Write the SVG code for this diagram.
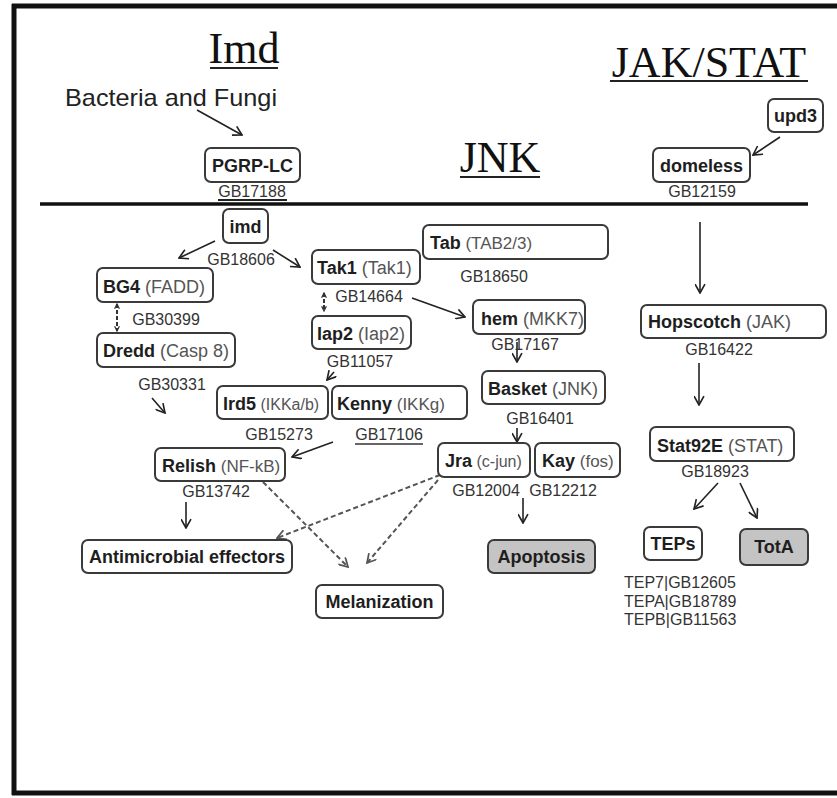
<svg xmlns="http://www.w3.org/2000/svg" width="837" height="798" viewBox="0 0 837 798">
<style>
.box{fill:#fff;stroke:#3a3a3a;stroke-width:2}
.gray{fill:#c4c4c4;stroke:#3a3a3a;stroke-width:2}
.lbl{font-family:"Liberation Sans",Arial,sans-serif;font-size:18px;fill:#222}
.b{font-weight:bold;fill:#1e1e1e}
.r{fill:#555}
.gb{font-family:"Liberation Sans",Arial,sans-serif;font-size:16px;fill:#333}
.title{font-family:"Liberation Serif","Times New Roman",serif;font-size:44px;fill:#111}
.arr{stroke:#222;stroke-width:1.6;fill:none;marker-end:url(#ah)}
.dash{stroke:#555;stroke-width:2;fill:none;stroke-dasharray:5 3;marker-end:url(#ahd)}
.dd{stroke:#333;stroke-width:2;fill:none;stroke-dasharray:4 2;marker-end:url(#ahs);marker-start:url(#ahs)}
.ul{stroke:#222;stroke-width:2}
</style>
<defs>
<marker id="ah" viewBox="0 0 10 10" refX="9" refY="5" markerWidth="11" markerHeight="11" markerUnits="userSpaceOnUse" orient="auto">
<path d="M1,0.5 L9,5 L1,9.5" fill="none" stroke="#222" stroke-width="1.5"/>
</marker>
<marker id="ahd" viewBox="0 0 10 10" refX="9" refY="5" markerWidth="11" markerHeight="11" markerUnits="userSpaceOnUse" orient="auto">
<path d="M1,0.5 L9,5 L1,9.5" fill="none" stroke="#555" stroke-width="1.6"/>
</marker>
<marker id="ahs" viewBox="0 0 10 10" refX="9" refY="5" markerWidth="6" markerHeight="6" markerUnits="userSpaceOnUse" orient="auto-start-reverse">
<path d="M1,1 L9,5 L1,9" fill="none" stroke="#333" stroke-width="2"/>
</marker>
</defs>
<rect width="837" height="798" fill="#fff"/>
<g id="frame">
<line x1="14" y1="4" x2="14" y2="795" stroke="#111" stroke-width="5"/>
<line x1="12" y1="6" x2="837" y2="6" stroke="#111" stroke-width="5"/>
<line x1="12" y1="793" x2="837" y2="793" stroke="#111" stroke-width="5"/>
<line x1="40" y1="204" x2="808" y2="204" stroke="#111" stroke-width="3.5"/>
</g>
<g id="titles">
<text class="title" x="244" y="63" text-anchor="middle">Imd</text>
<line class="ul" x1="210" y1="68" x2="278" y2="68"/>
<text class="title" x="709" y="77" text-anchor="middle">JAK/STAT</text>
<line class="ul" x1="610" y1="81" x2="808" y2="81"/>
<text class="title" x="500" y="172" text-anchor="middle">JNK</text>
<line class="ul" x1="460" y1="177" x2="540" y2="177"/>
<text x="65" y="106" font-family="'Liberation Sans',Arial,sans-serif" font-size="24" fill="#222" textLength="212" lengthAdjust="spacingAndGlyphs">Bacteria and Fungi</text>
</g>
<g id="connectors">
<line class="arr" x1="197" y1="110" x2="242" y2="135"/>
<line class="arr" x1="780" y1="137" x2="753" y2="155"/>
<line class="arr" x1="215" y1="241" x2="179" y2="258"/>
<line class="arr" x1="273" y1="250" x2="300" y2="267"/>
<line class="dd" x1="117" y1="304" x2="117" y2="331"/>
<line class="dd" x1="324" y1="293" x2="324" y2="311"/>
<line class="arr" x1="412" y1="298" x2="465" y2="317"/>
<line class="arr" x1="517" y1="342" x2="517" y2="362"/>
<line class="arr" x1="334" y1="372" x2="327" y2="380"/>
<line class="arr" x1="152" y1="398" x2="165" y2="413"/>
<line class="arr" x1="333" y1="442" x2="292" y2="457"/>
<line class="arr" x1="517" y1="428" x2="517" y2="442"/>
<line class="arr" x1="523" y1="498" x2="523" y2="523"/>
<line class="arr" x1="186" y1="502" x2="186" y2="528"/>
<line class="dash" x1="263" y1="482" x2="348" y2="567"/>
<line class="dash" x1="440" y1="475" x2="277" y2="538"/>
<line class="dash" x1="438" y1="480" x2="367" y2="563"/>
<line class="arr" x1="700" y1="222" x2="700" y2="293"/>
<line class="arr" x1="699" y1="363" x2="699" y2="405"/>
<line class="arr" x1="718" y1="483" x2="694" y2="509"/>
<line class="arr" x1="740" y1="483" x2="757" y2="518"/>
</g>
<g id="pgrp"><rect class="box" x="205" y="148" width="95" height="34" rx="6"/><text class="lbl b" x="252.5" y="172" text-anchor="middle">PGRP-LC</text><text class="gb" x="252" y="197" text-anchor="middle">GB17188</text><line class="ul" x1="218" y1="200" x2="287" y2="200"/></g>
<g id="domeless"><rect class="box" x="653" y="148" width="97" height="34" rx="6"/><text class="lbl b" x="701.5" y="172" text-anchor="middle">domeless</text><text class="gb" x="702" y="197" text-anchor="middle">GB12159</text></g>
<g id="upd3"><rect class="box" x="768" y="99" width="55" height="33" rx="6"/><text class="lbl b" x="795.5" y="122" text-anchor="middle">upd3</text></g>
<g id="imd"><rect class="box" x="223" y="209" width="45" height="34" rx="6"/><text class="lbl b" x="245.5" y="233" text-anchor="middle">imd</text><text class="gb" x="241" y="265" text-anchor="middle">GB18606</text></g>
<g id="bg4"><rect class="box" x="97" y="268" width="116" height="34" rx="6"/><text class="lbl" x="103" y="293"><tspan class="b">BG4</tspan><tspan class="r"> (FADD)</tspan></text><text class="gb" x="166" y="325" text-anchor="middle">GB30399</text></g>
<g id="dredd"><rect class="box" x="97" y="333" width="138" height="34" rx="6"/><text class="lbl" x="103" y="357"><tspan class="b">Dredd</tspan><tspan class="r"> (Casp 8)</tspan></text><text class="gb" x="172" y="390" text-anchor="middle">GB30331</text></g>
<g id="tak1"><rect class="box" x="312" y="250" width="108" height="34" rx="6"/><text class="lbl" x="317" y="274"><tspan class="b">Tak1</tspan><tspan class="r"> (Tak1)</tspan></text><text class="gb" x="369" y="302" text-anchor="middle">GB14664</text></g>
<g id="tab"><rect class="box" x="423" y="225" width="185" height="34" rx="6"/><text class="lbl" x="430" y="249"><tspan class="b">Tab</tspan><tspan class="r" font-size="17"> (TAB2/3)</tspan></text><text class="gb" x="494" y="282" text-anchor="middle">GB18650</text></g>
<g id="iap2"><rect class="box" x="312" y="316" width="99" height="33" rx="6"/><text class="lbl" x="317" y="340"><tspan class="b">Iap2</tspan><tspan class="r"> (Iap2)</tspan></text><text class="gb" x="360" y="367" text-anchor="middle">GB11057</text></g>
<g id="hem"><rect class="box" x="473" y="300" width="112" height="34" rx="6"/><text class="lbl" x="481" y="325"><tspan class="b">hem</tspan><tspan class="r"> (MKK7)</tspan></text><text class="gb" x="525" y="350" text-anchor="middle">GB17167</text></g>
<g id="basket"><rect class="box" x="482" y="371" width="123" height="33" rx="6"/><text class="lbl" x="488" y="395"><tspan class="b">Basket</tspan><tspan class="r"> (JNK)</tspan></text><text class="gb" x="540" y="424" text-anchor="middle">GB16401</text></g>
<g id="ird5"><rect class="box" x="217" y="386" width="111" height="33" rx="6"/><text class="lbl" x="223" y="410"><tspan class="b">Ird5</tspan><tspan class="r" font-size="16"> (IKKa/b)</tspan></text><text class="gb" x="279" y="440" text-anchor="middle">GB15273</text></g>
<g id="kenny"><rect class="box" x="332" y="386" width="135" height="33" rx="6"/><text class="lbl" x="337" y="410"><tspan class="b">Kenny</tspan><tspan class="r" font-size="17"> (IKKg)</tspan></text><text class="gb" x="389" y="440" text-anchor="middle">GB17106</text><line stroke="#333" stroke-width="1.3" x1="355" y1="444" x2="423" y2="444"/></g>
<g id="relish"><rect class="box" x="155" y="448" width="130" height="33" rx="6"/><text class="lbl" x="162" y="472"><tspan class="b">Relish</tspan><tspan class="r" font-size="17"> (NF-kB)</tspan></text><text class="gb" x="216" y="497" text-anchor="middle">GB13742</text></g>
<g id="jra"><rect class="box" x="438" y="443" width="92" height="34" rx="6"/><text class="lbl" x="445" y="467"><tspan class="b">Jra</tspan><tspan class="r" font-size="16"> (c-jun)</tspan></text><text class="gb" x="486" y="496" text-anchor="middle">GB12004</text></g>
<g id="kay"><rect class="box" x="535" y="443" width="85" height="34" rx="6"/><text class="lbl" x="542" y="467"><tspan class="b">Kay</tspan><tspan class="r" font-size="17"> (fos)</tspan></text><text class="gb" x="563" y="496" text-anchor="middle">GB12212</text></g>
<g id="apoptosis"><rect class="gray" x="488" y="540" width="107" height="33" rx="6"/><text class="lbl b" x="541.5" y="563" text-anchor="middle">Apoptosis</text></g>
<g id="antimicrobial"><rect class="box" x="82" y="540" width="210" height="33" rx="6"/><text class="lbl b" x="187" y="563" text-anchor="middle">Antimicrobial effectors</text></g>
<g id="melanization"><rect class="box" x="316" y="585" width="127" height="33" rx="6"/><text class="lbl b" x="379.5" y="608" text-anchor="middle">Melanization</text></g>
<g id="hopscotch"><rect class="box" x="641" y="305" width="185" height="33" rx="6"/><text class="lbl" x="648" y="328"><tspan class="b">Hopscotch</tspan><tspan class="r"> (JAK)</tspan></text><text class="gb" x="719" y="355" text-anchor="middle">GB16422</text></g>
<g id="stat92e"><rect class="box" x="650" y="427" width="144" height="34" rx="6"/><text class="lbl" x="657" y="452"><tspan class="b">Stat92E</tspan><tspan class="r"> (STAT)</tspan></text><text class="gb" x="715" y="477" text-anchor="middle">GB18923</text></g>
<g id="teps"><rect class="box" x="644" y="527" width="58" height="33" rx="6"/><text class="lbl b" x="673" y="550" text-anchor="middle">TEPs</text>
<text class="gb" x="624" y="588">TEP7|GB12605</text><text class="gb" x="624" y="607">TEPA|GB18789</text><text class="gb" x="624" y="625">TEPB|GB11563</text></g>
<g id="tota"><rect class="gray" x="740" y="529" width="68" height="36" rx="6"/><text class="lbl b" x="774" y="553" text-anchor="middle">TotA</text></g>
</svg>
